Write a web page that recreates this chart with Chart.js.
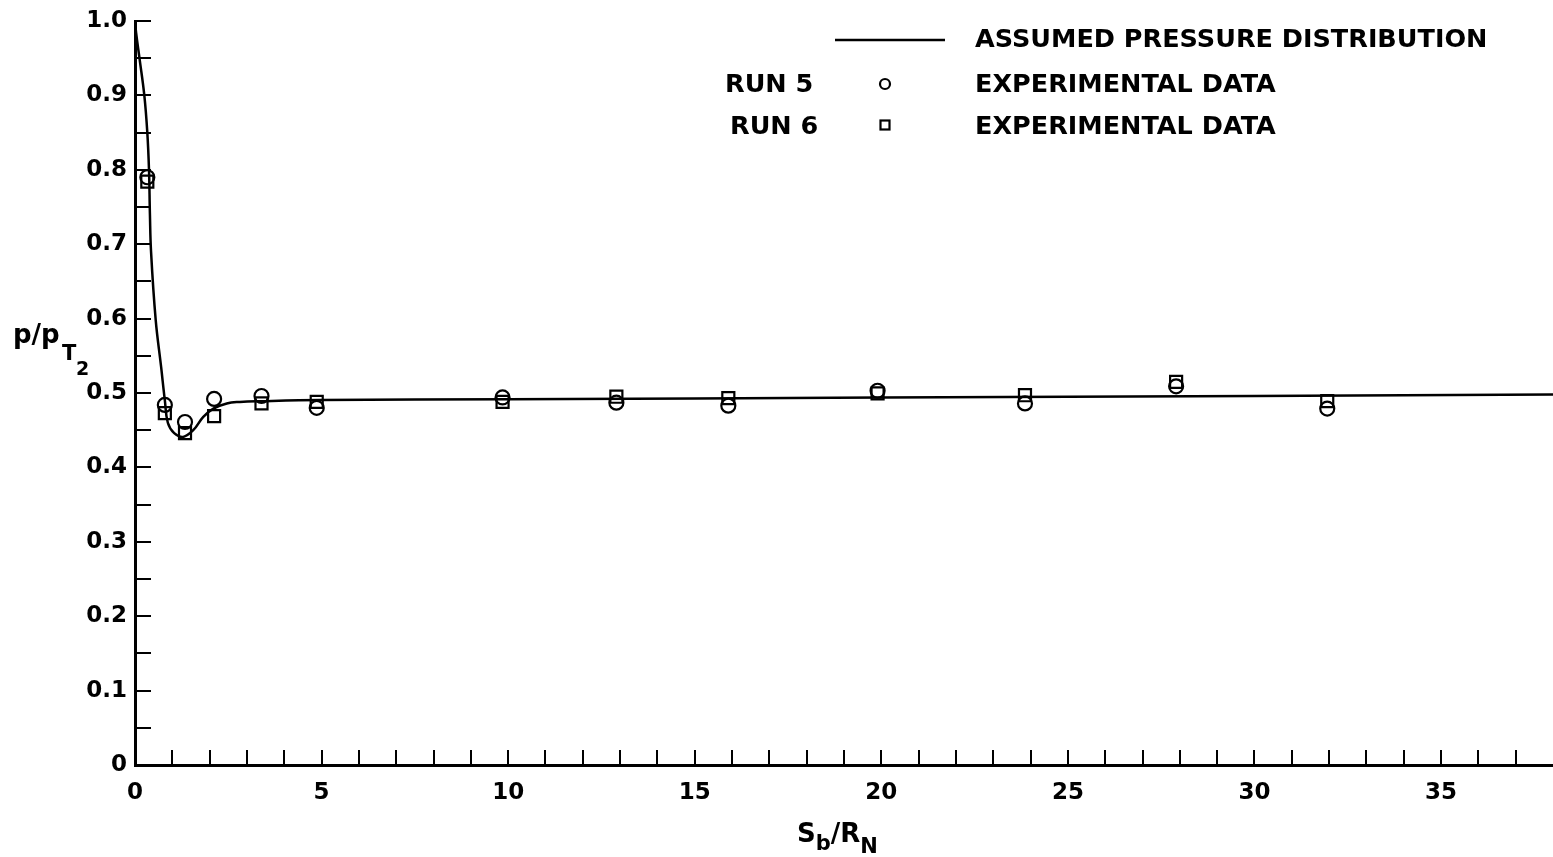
<!DOCTYPE html>
<html>
<head>
<meta charset="utf-8">
<script src="https://cdn.jsdelivr.net/npm/chart.js@4"></script>
<style>
  html, body { margin: 0; padding: 0; background: #fff; }
  canvas { display: block; }
</style>
</head>
<body>
<canvas id="chart" width="1553" height="857"></canvas>
<script>
// assumed pressure distribution (curve)
const curveX = [0, 0.03, 0.12, 0.25, 0.33, 0.375, 0.40, 0.43, 0.555, 0.70, 0.80, 0.88, 1.05, 1.29, 1.56, 1.83, 2.1, 2.46, 2.81, 3.35, 5, 10, 20, 30, 38];
const curveY = [1.0, 0.984, 0.95, 0.9, 0.85, 0.8, 0.74, 0.69, 0.598, 0.535, 0.49, 0.46, 0.446, 0.441, 0.45, 0.468, 0.479, 0.486, 0.488, 0.489, 0.4905, 0.4915, 0.494, 0.496, 0.498];

// experimental data
const runX = [0.33, 0.8, 1.34, 2.12, 3.39, 4.87, 9.85, 12.9, 15.9, 19.9, 23.85, 27.9, 31.95];
const run5 = [0.79, 0.484, 0.461, 0.492, 0.496, 0.48, 0.494, 0.487, 0.483, 0.503, 0.486, 0.509, 0.479];
const run6 = [0.784, 0.473, 0.446, 0.469, 0.486, 0.488, 0.488, 0.495, 0.493, 0.4995, 0.497, 0.515, 0.489];

const FONT = '"DejaVu Sans", sans-serif';

function pts(xs, ys) {
  return xs.map((x, i) => ({ x: x, y: ys[i] }));
}

// inward tick marks, legend and axis titles
const decorations = {
  id: 'decorations',
  afterDraw(chart) {
    const ctx = chart.ctx;
    const xs = chart.scales.x;
    const ys = chart.scales.y;
    const area = chart.chartArea;
    ctx.save();
    ctx.strokeStyle = '#000';
    ctx.lineWidth = 2;
    ctx.beginPath();
    for (let i = 1; i <= 37; i++) {
      const px = Math.round(xs.getPixelForValue(i));
      ctx.moveTo(px, area.bottom);
      ctx.lineTo(px, area.bottom - 15);
    }
    for (let i = 1; i <= 20; i++) {
      const py = Math.round(ys.getPixelForValue(i * 0.05));
      ctx.moveTo(area.left, py);
      ctx.lineTo(area.left + 16, py);
    }
    ctx.stroke();

    // legend
    ctx.fillStyle = '#000';
    ctx.font = 'bold 25.5px ' + FONT;
    ctx.textBaseline = 'alphabetic';
    ctx.lineWidth = 2.5;
    ctx.beginPath();
    ctx.moveTo(835, 40);
    ctx.lineTo(945, 40);
    ctx.stroke();
    ctx.fillText('ASSUMED PRESSURE DISTRIBUTION', 975, 47);
    ctx.fillText('RUN 5', 725, 92);
    ctx.fillText('EXPERIMENTAL DATA', 975, 92);
    ctx.fillText('RUN 6', 730, 134);
    ctx.fillText('EXPERIMENTAL DATA', 975, 134);
    ctx.lineWidth = 2.2;
    ctx.beginPath();
    ctx.arc(885, 84, 5, 0, Math.PI * 2);
    ctx.stroke();
    ctx.strokeRect(880.5, 120.5, 9, 9);

    // y title p/pT2
    ctx.font = 'bold 26px ' + FONT;
    ctx.fillText('p/p', 13, 343);
    ctx.font = 'bold 21px ' + FONT;
    ctx.fillText('T', 62, 360);
    ctx.font = 'bold 19px ' + FONT;
    ctx.fillText('2', 76, 375);

    // x title Sb/RN
    let x = 797;
    ctx.font = 'bold 26px ' + FONT;
    ctx.fillText('S', x, 842);
    x += ctx.measureText('S').width;
    ctx.font = 'bold 21px ' + FONT;
    ctx.fillText('b', x, 850);
    x += ctx.measureText('b').width;
    ctx.font = 'bold 26px ' + FONT;
    ctx.fillText('/R', x, 842);
    x += ctx.measureText('/R').width;
    ctx.font = 'bold 21px ' + FONT;
    ctx.fillText('N', x, 853);
    ctx.restore();
  }
};

new Chart(document.getElementById('chart'), {
  type: 'scatter',
  data: {
    datasets: [
      {
        label: 'ASSUMED PRESSURE DISTRIBUTION',
        data: pts(curveX, curveY),
        showLine: true,
        borderColor: '#000',
        borderWidth: 2.5,
        pointRadius: 0,
        tension: 0.4
      },
      {
        label: 'RUN 5',
        data: pts(runX, run5),
        pointStyle: 'circle',
        pointRadius: 7,
        borderColor: '#000',
        borderWidth: 2.2,
        backgroundColor: 'rgba(0,0,0,0)'
      },
      {
        label: 'RUN 6',
        data: pts(runX, run6),
        pointStyle: 'rect',
        pointRadius: 8.5,
        borderColor: '#000',
        borderWidth: 2.2,
        backgroundColor: 'rgba(0,0,0,0)'
      }
    ]
  },
  options: {
    responsive: false,
    animation: false,
    devicePixelRatio: 1,
    layout: { autoPadding: false, padding: { top: 21, right: 0, left: 0, bottom: 0 } },
    plugins: {
      legend: { display: false },
      tooltip: { enabled: false }
    },
    scales: {
      x: {
        type: 'linear',
        min: 0,
        max: 38,
        afterFit: s => { s.height = 92; s.paddingLeft = 0; s.paddingRight = 0; },
        grid: { display: false, drawTicks: false },
        border: { display: true, color: '#000', width: 3 },
        ticks: {
          stepSize: 5,
          includeBounds: false,
          autoSkip: false,
          maxRotation: 0,
          padding: 14,
          color: '#000',
          font: { family: FONT, size: 23, weight: 'bold' }
        }
      },
      y: {
        min: 0,
        max: 1,
        afterFit: s => { s.width = 135; s.paddingTop = 0; s.paddingBottom = 0; },
        grid: { display: false, drawTicks: false },
        border: { display: true, color: '#000', width: 3 },
        ticks: {
          stepSize: 0.1,
          autoSkip: false,
          padding: 8,
          color: '#000',
          font: { family: FONT, size: 23, weight: 'bold' },
          callback: v => v === 0 ? '0' : v.toFixed(1)
        }
      }
    }
  },
  plugins: [decorations]
});
</script>
</body>
</html>
